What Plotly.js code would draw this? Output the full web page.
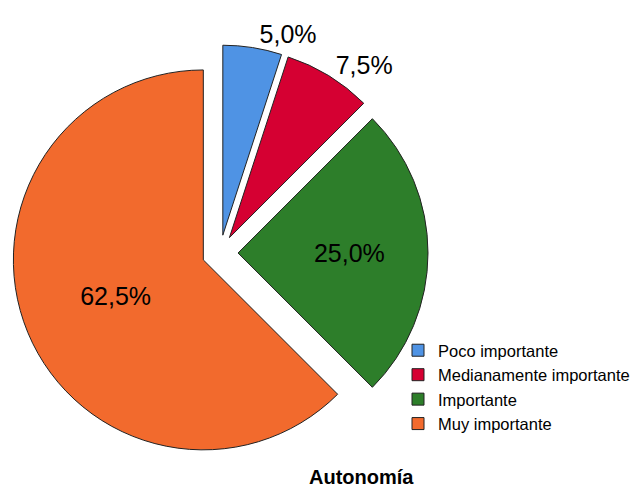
<!DOCTYPE html>
<html><head><meta charset="utf-8">
<script src="https://cdn.plot.ly/plotly-3.0.1.min.js"></script>
<style>body{margin:0;padding:0;background:#fff}#chart{width:644px;height:491px}</style>
</head><body><div id="chart"></div>
<script>
const categories = ["Poco importante", "Medianamente importante", "Importante", "Muy importante"];
const percents = [5.0, 7.5, 25.0, 62.5];
const textLabels = ["5,0%", "7,5%", "25,0%", "62,5%"];
const colors = ["#4f93e4", "#d50032", "#2d7e2a", "#f26a2d"];
const W = 644, H = 491;
const trace = {
  type: "pie",
  labels: categories,
  values: percents,
  text: textLabels,
  textinfo: "text",
  textposition: ["outside", "outside", "inside", "inside"],
  insidetextorientation: "horizontal",
  sort: false,
  direction: "clockwise",
  rotation: 0,
  pull: [0.095, 0.095, 0.095, 0.095],
  marker: {colors: colors, line: {color: "#222", width: 1}},
  textfont: {family: "Liberation Sans, Arial, sans-serif", size: 25, color: "#000"},
  domain: {x: [12 / W, 428 / W], y: [1 - 461 / H, 1 - 45 / H]},
  hoverinfo: "none"
};
const layout = {
  width: W, height: H,
  margin: {l: 0, r: 0, t: 0, b: 0},
  paper_bgcolor: "#fff",
  showlegend: true,
  legend: {x: 398 / W, y: 1 - 333 / H, xanchor: "left", yanchor: "top",
    bgcolor: "rgba(0,0,0,0)",
    font: {family: "Liberation Sans, Arial, sans-serif", size: 16.5, color: "#000"},
    tracegroupgap: 0, itemwidth: 30},
  annotations: [{text: "<b>Autonomía</b>", xref: "paper", yref: "paper", x: 361 / W, y: 1 - 477 / H,
    xanchor: "center", yanchor: "middle", showarrow: false,
    font: {family: "Liberation Sans, Arial, sans-serif", size: 20, color: "#000"}}]
};
Plotly.newPlot("chart", [trace], layout, {displayModeBar: false, staticPlot: true});
</script></body></html>
